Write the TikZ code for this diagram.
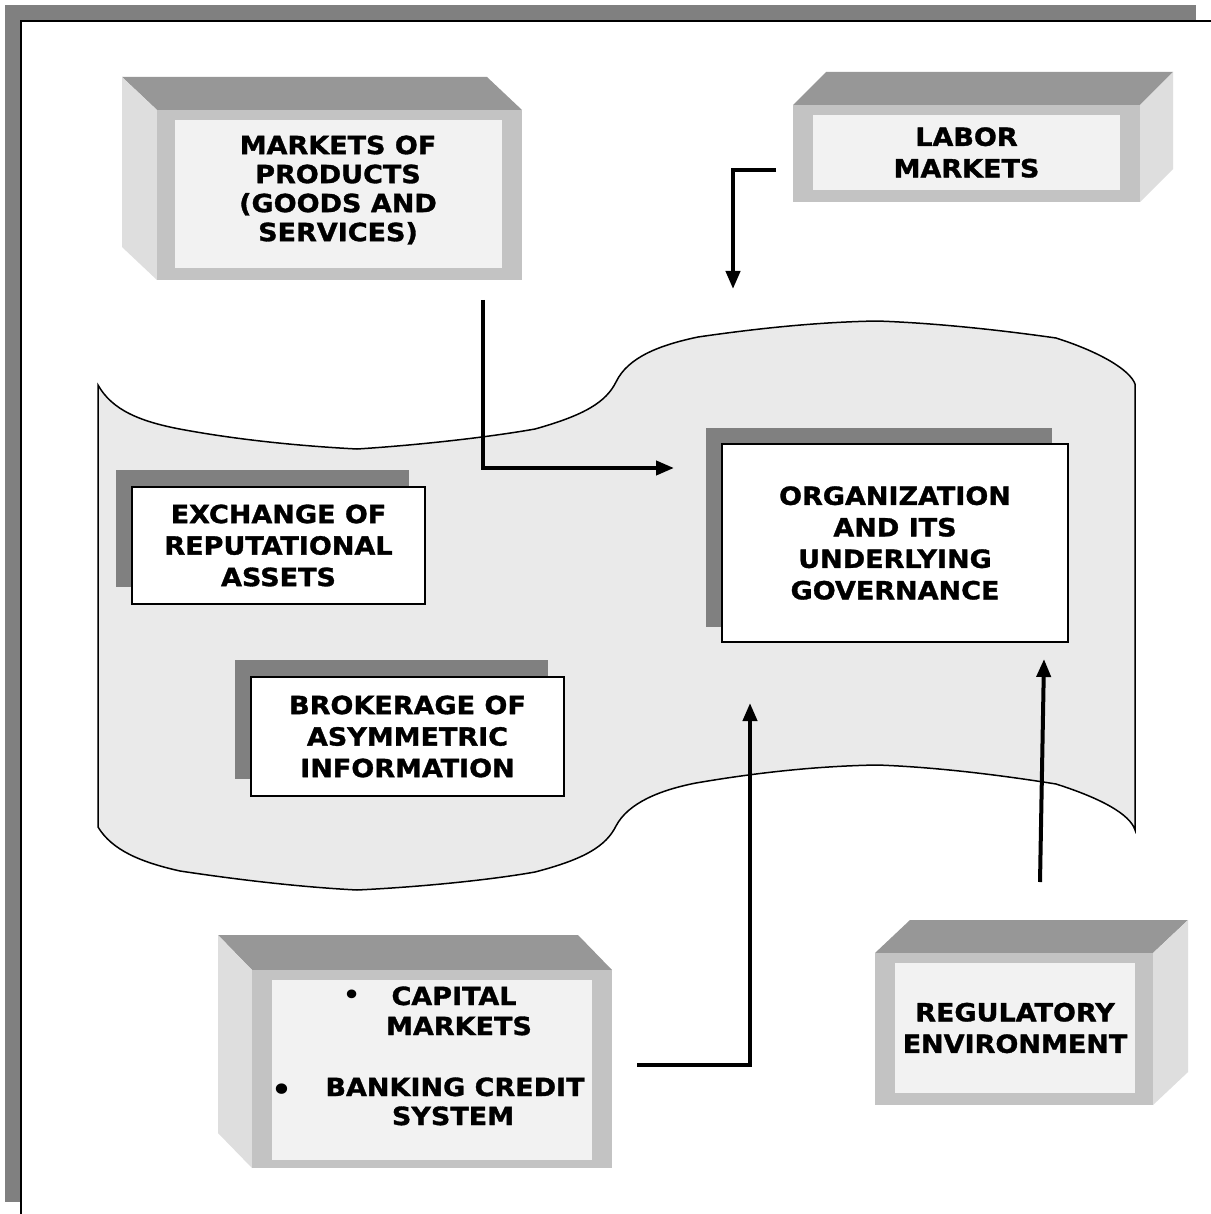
\documentclass[tikz,border=0pt]{standalone}
\usepackage{fontspec}
\setmainfont{DejaVu Sans}[FakeStretch=1.08, BoldFeatures={FakeBold=1.3}]
\usetikzlibrary{arrows.meta}
\definecolor{frameshadow}{HTML}{808080}
\definecolor{topface}{HTML}{979797}
\definecolor{sideface}{HTML}{DEDEDE}
\definecolor{frontface}{HTML}{C3C3C3}
\definecolor{panelfill}{HTML}{F2F2F2}
\definecolor{boxshadow}{HTML}{808080}
\definecolor{wavefill}{HTML}{EAEAEA}
\tikzset{
  lbl/.style={font=\bfseries\fontsize{25}{31.5}\selectfont, align=center, inner sep=0pt},
  panel/.style={fill=panelfill, draw=none, inner sep=0pt, lbl},
  wbox/.style={fill=white, draw=black, line width=2pt, inner sep=0pt, lbl},
  conn/.style={line width=4pt, -{Triangle[length=18pt,width=14pt]}},
  topf/.style={fill=topface},
  sidef/.style={fill=sideface},
  frontf/.style={fill=frontface}
}
\begin{document}
\begin{tikzpicture}[x=1pt,y=-1pt]
\useasboundingbox (0,0) rectangle (1210,1214);

% outer frame with shadow
\fill[frameshadow] (5,5) rectangle (1196,1202);
\draw[line width=2pt, fill=white] (21,21) rectangle (1240,1240);

% ---------- Markets of products (extruded back-left) ----------
\fill[topf] (122,77) -- (487,77) -- (522,110) -- (157,110) -- cycle;
\fill[sidef] (122,77) -- (157,110) -- (157,280) -- (122,247) -- cycle;
\fill[frontf] (157,110) rectangle (522,280);
\node[panel, minimum width=327pt, minimum height=148pt] (prod) at (338.5,194) {};
\node[lbl, font=\bfseries\fontsize{25}{29}\selectfont] (prodtxt) at (338,190)
  {MARKETS OF\\PRODUCTS\\(GOODS AND\\SERVICES)};

% ---------- Labor markets (extruded back-right) ----------
\fill[topf] (793,105) -- (826,72) -- (1173,72) -- (1140,105) -- cycle;
\fill[sidef] (1140,105) -- (1173,72) -- (1173,169) -- (1140,202) -- cycle;
\fill[frontf] (793,105) rectangle (1140,202);
\node[panel, minimum width=307pt, minimum height=75pt] (labor) at (966.5,152.5)
  {LABOR\\MARKETS};

% ---------- central wave shape ----------
\filldraw[fill=wavefill, draw=black, line width=1.5pt]
  (98,385) .. controls (112,410) and (140,422) .. (185,430)
  .. controls (240,440) and (300,446) .. (357,449)
  .. controls (420,445) and (490,437) .. (535,429)
  .. controls (585,415) and (606,402) .. (616,382)
  .. controls (628,357) and (660,345) .. (698,337)
  .. controls (760,328) and (820,322) .. (877,321)
  .. controls (935,323) and (1000,330) .. (1056,338)
  .. controls (1100,352) and (1130,370) .. (1135,384) -- (1135,830)
  .. controls (1130,814) and (1100,798) .. (1056,784)
  .. controls (1000,775) and (935,767) .. (877,765)
  .. controls (820,766) and (760,772) .. (696,783)
  .. controls (660,790) and (628,803) .. (616,826)
  .. controls (606,846) and (585,859) .. (535,872)
  .. controls (490,880) and (420,887) .. (357,890)
  .. controls (300,887) and (240,880) .. (180,871)
  .. controls (140,862) and (112,850) .. (98,827) -- cycle;

% ---------- boxes inside the wave ----------
\fill[boxshadow] (706,428) rectangle (1052,627);
\node[wbox, minimum width=346pt, minimum height=198pt] (org) at (895,543)
  {ORGANIZATION\\AND ITS\\UNDERLYING\\GOVERNANCE};

\fill[boxshadow] (116,470) rectangle (409,587);
\node[wbox, minimum width=293pt, minimum height=117pt] (exch) at (278.5,545.5)
  {EXCHANGE OF\\REPUTATIONAL\\ASSETS};

\fill[boxshadow] (235,660) rectangle (548,779);
\node[wbox, minimum width=313pt, minimum height=119pt] (brok) at (407.5,736.5)
  {BROKERAGE OF\\ASYMMETRIC\\INFORMATION};

% ---------- Capital markets (extruded back-left) ----------
\fill[topf] (218,935) -- (578,935) -- (612,970) -- (252,970) -- cycle;
\fill[sidef] (218,935) -- (252,970) -- (252,1168) -- (218,1133) -- cycle;
\fill[frontf] (252,970) rectangle (612,1168);
\node[panel, minimum width=320pt, minimum height=180pt] (cap) at (432,1070) {};
\node[lbl, anchor=base] (capA) at (454,1005) {CAPITAL};
\node[lbl, anchor=base] (capB) at (459,1035) {MARKETS};
\node[lbl, anchor=base] (capC) at (455,1096) {BANKING CREDIT};
\node[lbl, anchor=base] (capD) at (453,1125) {SYSTEM};
\node[lbl, font=\fontsize{30}{30}\selectfont] (bul1) at (352,998) {•};
\node[lbl, font=\fontsize{36}{36}\selectfont] (bul2) at (282,1093) {•};

% ---------- Regulatory environment (extruded back-right) ----------
\fill[topf] (875,953) -- (910,920) -- (1188,920) -- (1153,953) -- cycle;
\fill[sidef] (1153,953) -- (1188,920) -- (1188,1072) -- (1153,1105) -- cycle;
\fill[frontf] (875,953) rectangle (1153,1105);
\node[panel, minimum width=240pt, minimum height=130pt] (reg) at (1015,1028)
  {REGULATORY\\ENVIRONMENT};

% ---------- connectors ----------
\coordinate (p1) at (483,300);
\coordinate (p2) at (674,468);
\draw[conn] (p1) |- (p2);

\coordinate (l1) at (776,170);
\coordinate (l2) at (733,289);
\draw[conn] (l1) -| (l2);

\coordinate (c1) at (637,1065);
\coordinate (c2) at (750,703);
\draw[conn] (c1) -| (c2);

\coordinate (r1) at (1040,882);
\coordinate (r2) at (1044,659);
\draw[conn] (r1) -- (r2);
\end{tikzpicture}
\end{document}
